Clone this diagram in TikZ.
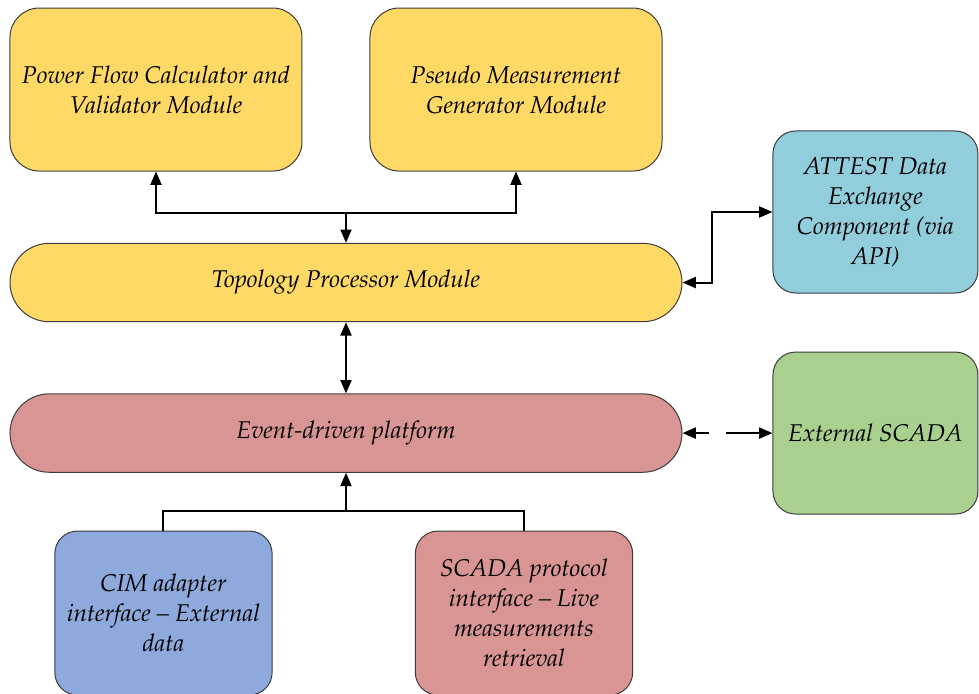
\documentclass[tikz,border=0pt]{standalone}
\usepackage[T1]{fontenc}
\usepackage{mathpazo}
\usetikzlibrary{arrows.meta, positioning}

\definecolor{modyellow}{RGB}{255,217,102}
\definecolor{modred}{RGB}{217,149,148}
\definecolor{modblue}{RGB}{142,169,219}
\definecolor{modcyan}{RGB}{146,205,220}
\definecolor{modgreen}{RGB}{169,208,142}
\definecolor{modline}{RGB}{60,60,60}

\begin{document}
\begin{tikzpicture}[on grid,
    font=\fontsize{18.2}{22.5}\selectfont\itshape,
    >={Triangle[length=10pt,width=8.25pt]},
    module/.style={draw=modline,line width=0.75pt,align=center,inner sep=2pt},
    bigbox/.style={module,rounded corners=22pt,minimum width=219pt,minimum height=122.25pt},
    pill/.style={module,rounded corners=29.4pt,minimum width=504pt,minimum height=58.8pt},
    sidebox/.style={module,rounded corners=17pt,minimum width=153.75pt,minimum height=121.5pt},
    lowbox/.style={module,rounded corners=17pt,minimum width=163pt,minimum height=123pt},
    link/.style={line width=1.5pt}]
  \clip (-259.5pt,211.9pt) rectangle (474.75pt,-307.9pt);

  \node[pill,fill=modyellow] (m_0) {Topology Processor Module};
  \node[bigbox,fill=modyellow] (m_1) [above left=144.75pt and 142.5pt of m_0] {Power Flow Calculator and\\Validator Module};
  \node[bigbox,fill=modyellow] (m_2) [right=270pt of m_1] {Pseudo Measurement\\Generator Module};
  \node[pill,fill=modred] (m_3) [below=112.9pt of m_0] {Event-driven platform};
  \node[sidebox,fill=modcyan] (m_4) [above right=52.9pt and 397.1pt of m_0] {ATTEST Data\\Exchange\\Component (via\\API)};
  \node[sidebox,fill=modgreen] (m_5) [right=397.1pt of m_3] {External SCADA};
  \node[lowbox,fill=modblue] (m_6) [below left=135pt and 136.9pt of m_3] {CIM adapter\\interface -- External\\data};
  \node[lowbox,fill=modred] (m_7) [below right=135pt and 133.5pt of m_3] {SCADA protocol\\interface -- Live\\measurements\\retrieval};

  \coordinate (j_1) at ([yshift=22.5pt]m_0.north);
  \coordinate (j_2) at ([xshift=21.75pt]m_0.east);
  \coordinate (j_3) at ([yshift=-28.5pt]m_3.south);

  \draw[link,<->] (m_1.south) |- (j_1) -| (m_2.south);
  \draw[link,->] (j_1) -- (m_0.north);
  \draw[link,<->] (m_0.south) -- (m_3.north);
  \draw[link,<->] (m_0.east) -- (j_2) |- (m_4.west);
  \draw[link,<->,dash pattern=on 10.5pt off 12.75pt on 30pt off 10pt] (m_3.east) -- (m_5.west);
  \draw[link] (m_6.north) |- (j_3) -| (m_7.north);
  \draw[link,->] (j_3) -- (m_3.south);
\end{tikzpicture}
\end{document}
